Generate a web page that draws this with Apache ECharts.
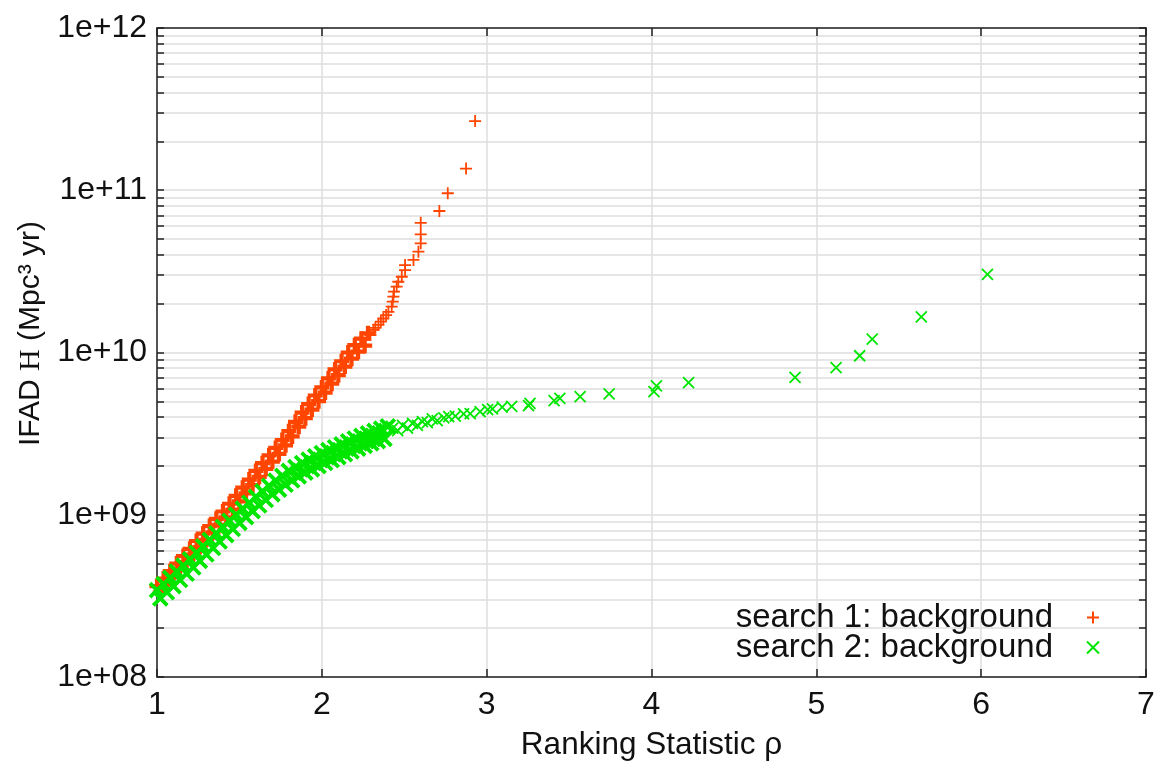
<!DOCTYPE html>
<html><head><meta charset="utf-8">
<script src="https://cdn.jsdelivr.net/npm/echarts@6/dist/echarts.min.js"></script>
<style>html,body{margin:0;padding:0;background:#fff}#c{width:1157px;height:761px}</style>
</head><body><div id="c"></div><script>
// ---- data ----
const xTicks = [1, 2, 3, 4, 5, 6, 7];
const yMajor = [1e8, 1e9, 1e10, 1e11, 1e12];
const yMinorMult = [2, 3, 4, 5, 6, 7, 8, 9];
const seriesNames = ['search 1: background', 'search 2: background'];

// search 1: dense part of the point cloud (alternating upper / lower side of the band)
const redBand = [
  [1.00,3.63e8],[1.02,3.33e8],[1.04,4.04e8],[1.06,3.71e8],[1.08,4.49e8],[1.10,4.12e8],
  [1.12,5.00e8],[1.14,4.59e8],[1.16,5.56e8],[1.18,5.11e8],[1.20,6.17e8],[1.22,5.68e8],
  [1.24,6.89e8],[1.26,6.32e8],[1.28,7.66e8],[1.30,7.01e8],[1.32,8.51e8],[1.34,7.80e8],
  [1.36,9.44e8],[1.38,8.67e8],[1.40,1.047e9],[1.42,9.64e8],[1.44,1.169e9],[1.46,1.076e9],
  [1.48,1.309e9],[1.50,1.208e9],[1.52,1.469e9],[1.54,1.355e9],[1.56,1.648e9],[1.58,1.521e9],
  [1.60,1.862e9],[1.62,1.714e9],[1.64,2.08e9],[1.66,1.914e9],[1.68,2.323e9],[1.70,2.128e9],
  [1.72,2.582e9],[1.74,2.371e9],[1.76,2.884e9],[1.78,2.679e9],[1.80,3.273e9],[1.82,3.041e9],
  [1.84,3.741e9],[1.86,3.491e9],[1.88,4.266e9],[1.90,3.936e9],[1.92,4.808e9],[1.94,4.446e9],
  [1.96,5.433e9],[1.98,5.012e9],[2.00,6.095e9],[2.02,5.662e9],[2.04,6.918e9],[2.06,6.427e9],
  [2.08,7.87e9],[2.10,7.244e9],[2.12,8.83e9],[2.14,8.185e9],[2.16,1.0e10],[2.18,9.16e9],
  [2.20,1.109e10],[2.22,1.012e10],[2.24,1.216e10],[2.26,1.102e10],[2.28,1.312e10]
];
// search 1: sparse tail
const redTail = [
  [2.295,1.28e10],[2.313,1.38e10],[2.325,1.42e10],[2.343,1.48e10],[2.358,1.55e10],
  [2.373,1.62e10],[2.39,1.70e10],[2.404,1.78e10],[2.424,1.92e10],[2.43,2.06e10],
  [2.434,2.21e10],[2.438,2.37e10],[2.454,2.55e10],[2.464,2.73e10],[2.485,2.93e10],
  [2.505,3.22e10],[2.505,3.46e10],[2.556,3.72e10],[2.586,4.18e10],[2.60,4.71e10],
  [2.60,5.35e10],[2.60,6.3e10],[2.713,7.45e10],[2.764,9.58e10],[2.875,1.36e11],[2.93,2.67e11]
];
// search 2: dense part of the point cloud
const greenBand = [
  [1.00,3.43e8],[1.02,3.05e8],[1.04,3.74e8],[1.06,3.33e8],[1.08,4.08e8],[1.10,3.63e8],
  [1.12,4.46e8],[1.14,3.96e8],[1.16,4.86e8],[1.18,4.33e8],[1.20,5.31e8],[1.22,4.73e8],
  [1.24,5.82e8],[1.26,5.19e8],[1.28,6.38e8],[1.30,5.69e8],[1.32,7.0e8],[1.34,6.24e8],
  [1.36,7.67e8],[1.38,6.84e8],[1.40,8.41e8],[1.42,7.48e8],[1.44,9.18e8],[1.46,8.17e8],
  [1.48,1.002e9],[1.50,8.91e8],[1.52,1.091e9],[1.54,9.68e8],[1.56,1.186e9],[1.58,1.052e9],
  [1.60,1.288e9],[1.62,1.14e9],[1.64,1.393e9],[1.66,1.233e9],[1.68,1.507e9],[1.70,1.334e9],
  [1.72,1.622e9],[1.74,1.429e9],[1.76,1.738e9],[1.78,1.531e9],[1.80,1.862e9],[1.82,1.629e9],
  [1.84,1.968e9],[1.86,1.722e9],[1.88,2.08e9],[1.90,1.82e9],[1.92,2.188e9],[1.94,1.905e9],
  [1.96,2.291e9],[1.98,1.995e9],[2.00,2.399e9],[2.02,2.084e9],[2.04,2.5e9],[2.06,2.173e9],
  [2.08,2.606e9],[2.10,2.265e9],[2.12,2.716e9],[2.14,2.36e9],[2.16,2.831e9],[2.18,2.46e9],
  [2.20,2.951e9],[2.22,2.559e9],[2.24,3.062e9],[2.26,2.655e9],[2.28,3.177e9],[2.30,2.754e9],
  [2.32,3.289e9],[2.34,2.844e9],[2.36,3.396e9],[2.38,2.938e9],[2.40,3.508e9]
];
// search 2: sparse tail
const greenTail = [
  [2.43,3.42e9],[2.46,3.30e9],[2.49,3.55e9],[2.52,3.42e9],[2.55,3.66e9],[2.58,3.55e9],
  [2.61,3.75e9],[2.64,3.70e9],[2.67,3.90e9],[2.70,3.80e9],[2.74,3.95e9],[2.77,4.02e9],
  [2.81,4.05e9],[2.86,4.18e9],[2.90,4.20e9],[2.96,4.32e9],[3.006,4.45e9],[3.035,4.50e9],
  [3.094,4.60e9],[3.152,4.65e9],[3.254,4.70e9],[3.263,4.86e9],[3.409,5.05e9],[3.444,5.22e9],
  [3.567,5.34e9],[3.743,5.55e9],[4.015,5.74e9],[4.03,6.22e9],[4.225,6.52e9],[4.871,7.03e9],
  [5.12,8.06e9],[5.263,9.55e9],[5.339,1.21e10],[5.637,1.66e10],[6.038,3.03e10]
];

// ---- chart ----
const yAllTicks = [];
yMajor.forEach((m, i) => {
  yAllTicks.push(m);
  if (i < yMajor.length - 1) yMinorMult.forEach(k => yAllTicks.push(m * k));
});
const FONT = 'Liberation Sans, Arial, sans-serif';
const RED = '#ff4500', GREEN = '#00e600';
const PLUS = 'path://M0,5L10,5M5,0L5,10';
const CROSS = 'path://M0,0L10,10M10,0L0,10';
const axisLineStyle = { color: '#222', width: 1.5 };
const gridColor = '#dedede';

const chart = echarts.init(document.getElementById('c'), null, { renderer: 'canvas' });
chart.setOption({
  animation: false,
  backgroundColor: '#fff',
  grid: { left: 157, right: 11, top: 28, bottom: 84, containLabel: false, outerBoundsMode: 'none' },
  legend: {
    orient: 'vertical', right: 57, top: 601, padding: 0, itemGap: -3,
    align: 'right', itemWidth: 70, itemHeight: 12,
    textStyle: { fontFamily: FONT, fontSize: 33, color: '#111', lineHeight: 30 },
    data: [{ name: seriesNames[0], icon: PLUS }, { name: seriesNames[1], icon: CROSS }]
  },
  xAxis: [{
    type: 'value', min: xTicks[0], max: xTicks[xTicks.length - 1], interval: 1, position: 'bottom',
    axisLine: { show: true, onZero: false, lineStyle: axisLineStyle },
    axisTick: { show: true, inside: true, length: 8, lineStyle: axisLineStyle },
    axisLabel: { fontFamily: FONT, fontSize: 32, color: '#111', margin: 12 },
    splitLine: { show: true, lineStyle: { color: gridColor, width: 1.5 } },
    name: 'Ranking Statistic ρ', nameLocation: 'middle', nameGap: 52,
    nameTextStyle: { fontFamily: FONT, fontSize: 31.5, color: '#111' }
  }, {
    type: 'value', min: xTicks[0], max: xTicks[xTicks.length - 1], interval: 1, position: 'top',
    axisLine: { show: true, onZero: false, lineStyle: axisLineStyle },
    axisTick: { show: true, inside: true, length: 8, lineStyle: axisLineStyle },
    axisLabel: { show: false }, splitLine: { show: false }
  }],
  yAxis: [{
    type: 'log', logBase: 10, min: yMajor[0], max: yMajor[yMajor.length - 1], position: 'left',
    axisLine: { show: true, onZero: false, lineStyle: axisLineStyle },
    axisTick: { show: true, inside: true, length: 7, customValues: yAllTicks, lineStyle: axisLineStyle },
    axisLabel: {
      customValues: yMajor, fontFamily: FONT, fontSize: 32, color: '#111', margin: 10,
      formatter: v => '1e+' + String(Math.round(Math.log10(v))).padStart(2, '0')
    },
    splitLine: { show: true, lineStyle: { color: gridColor, width: 1.5 } },
    name: '{a|IFAD }{h|H}{a| (Mpc³ yr)}', nameLocation: 'middle', nameRotate: 90, nameGap: 110,
    nameTextStyle: {
      padding: [0, 0, 0, 38],
      rich: {
        a: { fontFamily: FONT, fontSize: 30, color: '#111' },
        h: { fontFamily: 'Liberation Serif, serif', fontSize: 30, color: '#111' }
      }
    }
  }, {
    type: 'log', logBase: 10, min: yMajor[0], max: yMajor[yMajor.length - 1], position: 'right',
    axisLine: { show: true, onZero: false, lineStyle: axisLineStyle },
    axisTick: { show: true, inside: true, length: 7, customValues: yAllTicks, lineStyle: axisLineStyle },
    axisLabel: { show: false }, splitLine: { show: false }
  }],
  series: [{
    name: seriesNames[0], type: 'scatter', xAxisIndex: 0, yAxisIndex: 0,
    symbol: PLUS, symbolSize: 12,
    itemStyle: { color: 'transparent', borderColor: RED, borderWidth: 1.8, opacity: 1 },
    data: redTail
  }, {
    name: seriesNames[0], type: 'scatter', xAxisIndex: 0, yAxisIndex: 0,
    symbol: PLUS, symbolSize: 15,
    itemStyle: { color: 'transparent', borderColor: RED, borderWidth: 4.2, opacity: 1 },
    data: redBand
  }, {
    name: seriesNames[1], type: 'scatter', xAxisIndex: 0, yAxisIndex: 0,
    symbol: CROSS, symbolSize: 11,
    itemStyle: { color: 'transparent', borderColor: GREEN, borderWidth: 1.8, opacity: 1 },
    data: greenTail
  }, {
    name: seriesNames[1], type: 'scatter', xAxisIndex: 0, yAxisIndex: 0,
    symbol: CROSS, symbolSize: 14,
    itemStyle: { color: 'transparent', borderColor: GREEN, borderWidth: 3.8, opacity: 1 },
    data: greenBand
  }]
});
</script></body></html>
